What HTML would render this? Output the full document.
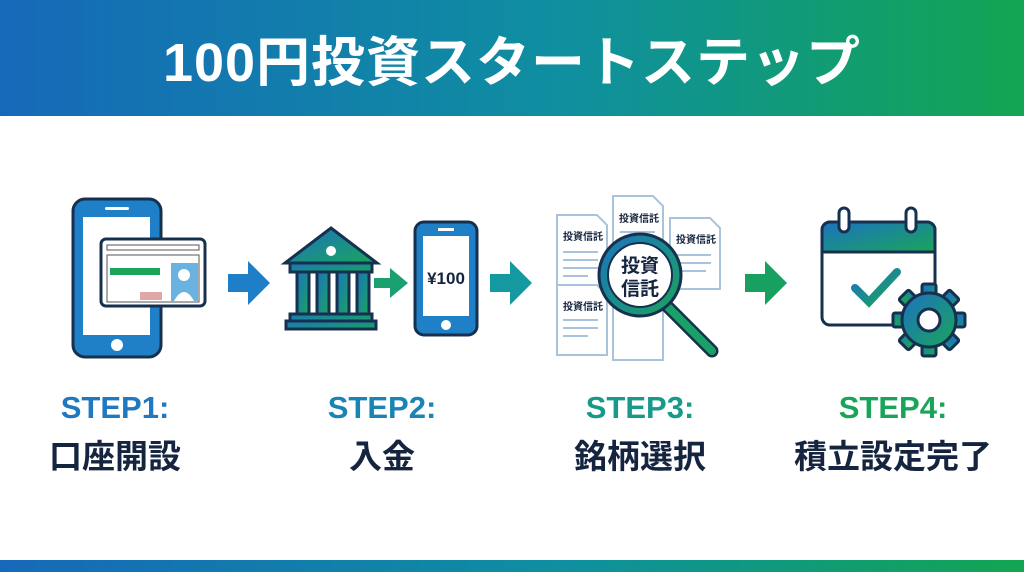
<!DOCTYPE html>
<html><head><meta charset="utf-8"><style>
body{margin:0;width:1024px;height:572px;background:#fff;position:relative;overflow:hidden;font-family:"Liberation Sans","Noto Sans CJK JP",sans-serif}
.hdr{position:absolute;left:0;top:0;width:1024px;height:116px;background:linear-gradient(90deg,#1669b8,#0f8fa0 55%,#13a552)}
.hdr div{position:absolute;left:0;width:100%;top:30px;text-align:center;color:#fff;font-weight:bold;font-size:54px;letter-spacing:1px;line-height:66px}
.ftr{position:absolute;left:0;bottom:0;width:1024px;height:12px;background:linear-gradient(90deg,#1669b8,#0f8fa0 55%,#13a552)}
.lab{position:absolute;width:260px;text-align:center;font-weight:bold}
.s{font-size:31px;top:390px}.t{font-size:33px;top:430px;color:#15243f}
</style></head><body>
<div class="hdr"><div>100円投資スタートステップ</div></div>
<svg width="1024" height="572" style="position:absolute;left:0;top:0">
<defs>
<linearGradient id="bg" x1="0" y1="0" x2="1" y2="1"><stop offset="0" stop-color="#1c72c0"/><stop offset="1" stop-color="#1aa55a"/></linearGradient>
</defs>
<g stroke="#16304f" stroke-width="3">
<rect x="73" y="199" width="88" height="158" rx="12" fill="#1f80c8"/>
<rect x="83" y="217" width="67" height="118" fill="#fff" stroke="none"/>
<rect x="101" y="239" width="104" height="67" rx="5" fill="#fff"/>
</g>
<rect x="107" y="245" width="92" height="5" fill="none" stroke="#555" stroke-width="1"/>
<rect x="107" y="255" width="92" height="47" fill="none" stroke="#555" stroke-width="1"/>
<rect x="110" y="268" width="50" height="7" fill="#1aa55a"/>
<rect x="171" y="263" width="27" height="38" fill="#6ab3e0"/>
<circle cx="184" cy="275" r="6" fill="#fff"/><path d="M174 301q10-18 20 0z" fill="#fff"/>
<rect x="140" y="292" width="22" height="8" fill="#e0a7a7"/>
<rect x="105" y="207" width="24" height="3" rx="1.5" fill="#fff"/>
<circle cx="117" cy="345" r="6" fill="#fff"/>
<path d="M228 274h20v-13l22 22-22 22v-13h-20z" fill="#1f7ec8"/>
<g stroke="#16304f" stroke-width="3" fill="url(#bg)">
<path d="M331 228l46 35h-92z"/>
<rect x="290" y="263" width="82" height="9"/>
<rect x="297" y="272" width="12" height="42"/><rect x="317" y="272" width="12" height="42"/><rect x="337" y="272" width="12" height="42"/><rect x="357" y="272" width="12" height="42"/>
<rect x="290" y="314" width="82" height="7"/>
<rect x="286" y="321" width="90" height="8"/>
</g>
<circle cx="331" cy="251" r="5" fill="#fff"/>
<path d="M374 278h16v-10l18 15-18 15v-10h-16z" fill="#1aa070"/>
<rect x="415" y="222" width="62" height="113" rx="9" fill="#1f80c8" stroke="#16304f" stroke-width="3"/>
<rect x="423" y="236" width="46" height="80" fill="#fff"/>
<rect x="438" y="228" width="16" height="3" fill="#fff"/>
<circle cx="446" cy="325" r="5" fill="#fff"/>
<text x="446" y="284" text-anchor="middle" font-size="17" font-weight="bold" fill="#15243f" font-family="Liberation Sans">¥100</text>
<path d="M490 274h20v-13l22 22-22 22v-13h-20z" fill="#1599a0"/>
<g fill="#fff" stroke="#a9c3dc" stroke-width="2">
<path d="M557 215h40l10 10v66h-50z"/><path d="M613 196h40l10 10v115h-50z"/><path d="M670 218h40l10 10v61h-50z"/><path d="M557 285h40l10 10v60h-50z"/><path d="M613 250h40l10 10v100h-50z"/>
</g>
<g font-size="10" font-weight="bold" fill="#15243f" font-family="Noto Sans CJK JP">
<text x="563" y="240">投資信託</text><text x="619" y="222">投資信託</text><text x="676" y="243">投資信託</text><text x="563" y="310">投資信託</text>
</g>
<g stroke="#a9c3dc" stroke-width="2"><path d="M563 252h35M563 260h35M563 268h35M563 276h25M563 320h35M563 328h35M563 336h25M676 255h35M676 263h35M676 271h30M620 232h35M620 240h35"/></g>
<path d="M667 306l45 45" stroke="#16304f" stroke-width="13" stroke-linecap="round"/>
<path d="M667 306l45 45" stroke="#1aa066" stroke-width="8" stroke-linecap="round"/>
<circle cx="640" cy="275" r="41" fill="url(#bg)" stroke="#16304f" stroke-width="3"/>
<circle cx="640" cy="275" r="32" fill="#fff" stroke="#16304f" stroke-width="2"/>
<text x="640" y="272" text-anchor="middle" font-size="19" font-weight="bold" fill="#15243f" font-family="Noto Sans CJK JP">投資</text>
<text x="640" y="295" text-anchor="middle" font-size="19" font-weight="bold" fill="#15243f" font-family="Noto Sans CJK JP">信託</text>
<path d="M745 274h20v-13l22 22-22 22v-13h-20z" fill="#17a060"/>
<rect x="822" y="222" width="113" height="103" rx="8" fill="#fff" stroke="#16304f" stroke-width="3"/>
<path d="M822 252v-22a8 8 0 0 1 8-8h97a8 8 0 0 1 8 8v22z" fill="url(#bg)" stroke="#16304f" stroke-width="3"/>
<rect x="839" y="208" width="10" height="24" rx="5" fill="#fff" stroke="#16304f" stroke-width="3"/>
<rect x="906" y="208" width="10" height="24" rx="5" fill="#fff" stroke="#16304f" stroke-width="3"/>
<path d="M855 288l14 14 28-30" fill="none" stroke="url(#bg)" stroke-width="8" stroke-linecap="round"/>
<g transform="translate(929 320)">
<g fill="url(#bg)" stroke="#16304f" stroke-width="3">
<rect x="-7" y="-36" width="14" height="72" rx="2"/>
<rect x="-7" y="-36" width="14" height="72" rx="2" transform="rotate(45)"/>
<rect x="-7" y="-36" width="14" height="72" rx="2" transform="rotate(90)"/>
<rect x="-7" y="-36" width="14" height="72" rx="2" transform="rotate(135)"/>
<circle r="27"/>
</g>
<circle r="11" fill="#fff" stroke="#16304f" stroke-width="3"/>
</g>
</svg>
<div class="lab s" style="left:-15px;color:#1f78c0">STEP1:</div><div class="lab t" style="left:-15px">口座開設</div>
<div class="lab s" style="left:252px;color:#1a84b4">STEP2:</div><div class="lab t" style="left:252px">入金</div>
<div class="lab s" style="left:510px;color:#179a8a">STEP3:</div><div class="lab t" style="left:510px">銘柄選択</div>
<div class="lab s" style="left:763px;color:#18a55a">STEP4:</div><div class="lab t" style="left:763px">積立設定完了</div>
<div class="ftr"></div>
</body></html>
